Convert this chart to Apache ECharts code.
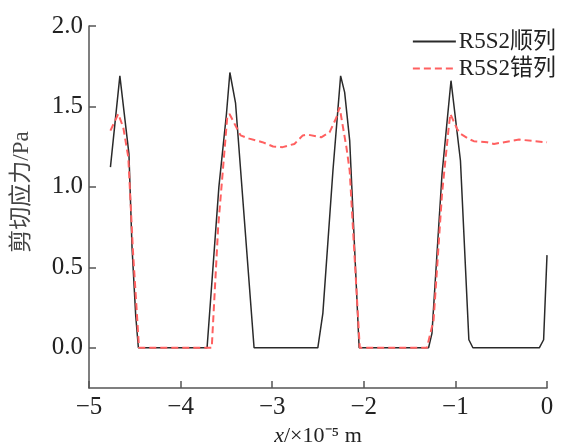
<!DOCTYPE html>
<html>
<head>
<meta charset="utf-8">
<script src="https://cdn.jsdelivr.net/npm/echarts@6/dist/echarts.min.js"></script>
<style>html,body{margin:0;padding:0;background:#fff}#c{width:563px;height:446px}</style>
</head>
<body>
<div id="c"></div>
<script>
var seriesNames = ['R5S2顺列', 'R5S2错列'];
var xTicks = [-5, -4, -3, -2, -1, 0];
var yTicks = [0, 0.5, 1.0, 1.5, 2.0];

var blackX = [-4.766, -4.663, -4.564, -4.53, -4.49, -4.461, -3.711, -3.582, -3.50, -3.462, -3.40, -3.198,
  -2.502, -2.447, -2.337, -2.253, -2.209, -2.154, -2.051, -1.293, -1.256, -1.146, -1.048, -0.945,
  -0.853, -0.809, -0.084, -0.037, 0];
var blackY = [1.123, 1.690, 1.205, 0.62, 0.20, 0, 0, 1.0, 1.45, 1.711, 1.52, 0,
  0, 0.214, 1.10, 1.690, 1.587, 1.288, 0, 0, 0.09, 1.08, 1.66, 1.164,
  0.05, 0, 0, 0.05, 0.576];

var redX = [-4.766, -4.681, -4.626, -4.571, -4.52, -4.454, -3.66, -3.59, -3.491, -3.466, -3.40, -3.345,
  -3.25, -3.107, -2.99, -2.886, -2.758, -2.666, -2.612, -2.465, -2.374, -2.30, -2.264, -2.19,
  -2.154, -2.044, -1.311, -1.238, -1.146, -1.073, -1.055, -0.981, -0.945, -0.853, -0.799,
  -0.652, -0.579, -0.304, 0];
var redY = [1.35, 1.453, 1.37, 1.185, 0.6, 0, 0, 0.75, 1.432, 1.453, 1.38, 1.32,
  1.30, 1.278, 1.251, 1.247, 1.267, 1.32, 1.325, 1.308, 1.339, 1.43, 1.494, 1.247,
  1.10, 0, 0, 0.173, 0.958, 1.37, 1.453, 1.36, 1.33, 1.298, 1.284,
  1.277, 1.267, 1.294, 1.277];

function pairs(xs, ys) { return xs.map(function (x, i) { return [x, ys[i]]; }); }

var serif = '"Liberation Serif","Times New Roman","Noto Sans CJK SC",serif';
var chart = echarts.init(document.getElementById('c'), null, {renderer: 'canvas'});
chart.setOption({
  animation: false,
  backgroundColor: '#fff',
  grid: {left: 89, right: 16, top: 26, bottom: 58, containLabel: false, outerBoundsMode: 'none'},
  legend: {
    orient: 'vertical', right: 2, top: 25, itemWidth: 43, itemHeight: 14, itemGap: 4,
    itemStyle: {opacity: 0},
    textStyle: {fontFamily: serif, fontSize: 23, color: '#222', padding: [0, 0, 0, -2]},
    data: seriesNames
  },
  xAxis: {
    type: 'value', min: -5, max: 0, interval: 1,
    name: '{i|x}/×10⁻⁵ m', nameLocation: 'middle', nameGap: 36,
    nameTextStyle: {fontFamily: serif, fontSize: 22, color: '#222',
      rich: {i: {fontFamily: serif, fontSize: 22, fontStyle: 'italic', color: '#222'}}},
    axisLine: {onZero: false, lineStyle: {color: '#555', width: 1.5}},
    axisTick: {inside: true, length: 7, lineStyle: {color: '#555', width: 1.5}, customValues: xTicks},
    axisLabel: {fontFamily: serif, fontSize: 25, color: '#222', margin: 7, customValues: xTicks,
      formatter: function (v) { return v < 0 ? '\u2212' + Math.abs(v) : String(v); }},
    splitLine: {show: false}
  },
  yAxis: {
    type: 'value', min: -0.25, max: 2.0,
    name: '剪切应力/Pa', nameLocation: 'middle', nameGap: 56, nameRotate: 90,
    nameTextStyle: {fontFamily: serif, fontSize: 23, color: '#444', padding: [0, 0, 0, 30]},
    axisLine: {onZero: false, lineStyle: {color: '#555', width: 1.5}},
    axisTick: {inside: true, length: 7, lineStyle: {color: '#555', width: 1.5}, customValues: yTicks},
    axisLabel: {fontFamily: serif, fontSize: 25, color: '#222', margin: 6, customValues: yTicks,
      formatter: function (v) { return v.toFixed(1); }},
    splitLine: {show: false}
  },
  series: [
    {name: seriesNames[0], type: 'line', symbol: 'none', data: pairs(blackX, blackY),
      lineStyle: {color: '#2a2a2a', width: 1.5}, itemStyle: {color: '#2a2a2a'}, z: 2},
    {name: seriesNames[1], type: 'line', symbol: 'none', data: pairs(redX, redY),
      lineStyle: {color: '#ff6060', width: 2, type: [7, 4]}, itemStyle: {color: '#ff6060'}, z: 3}
  ]
});
</script>
</body>
</html>
